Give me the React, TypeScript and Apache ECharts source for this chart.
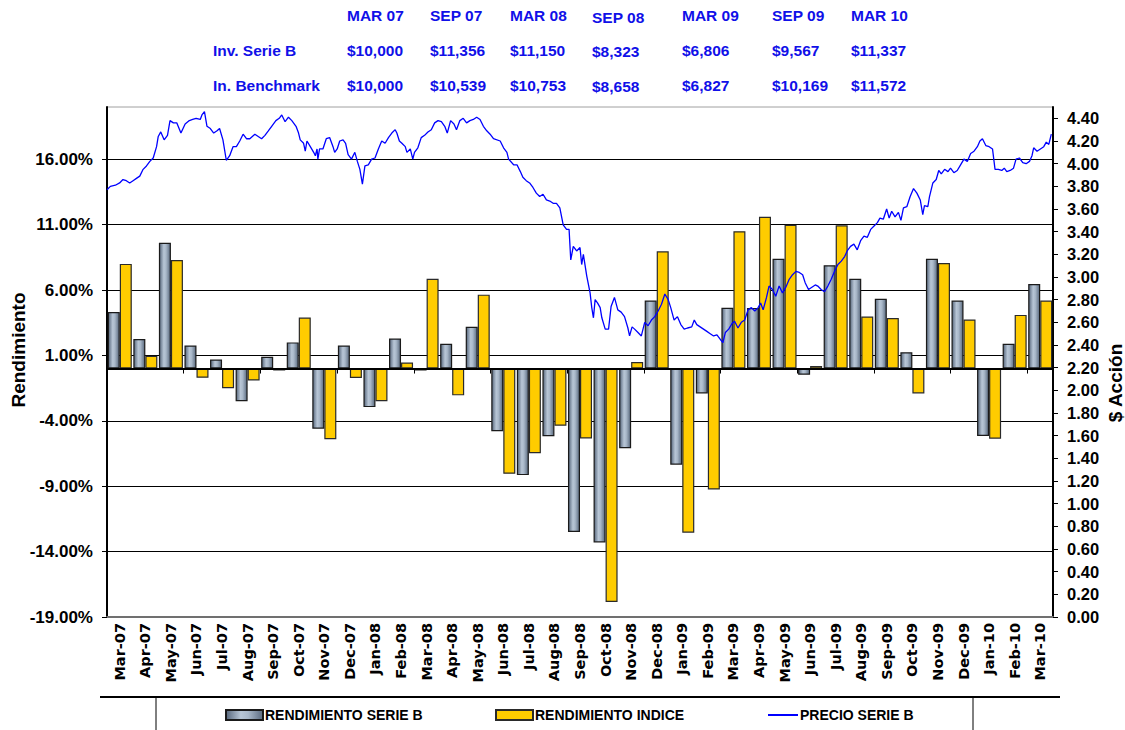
import { useEffect, useRef } from 'react';
import * as echarts from 'echarts';

// ---------- data ----------
const categories = [
  'Mar-07', 'Apr-07', 'May-07', 'Jun-07', 'Jul-07', 'Aug-07', 'Sep-07', 'Oct-07', 'Nov-07', 'Dec-07',
  'Jan-08', 'Feb-08', 'Mar-08', 'Apr-08', 'May-08', 'Jun-08', 'Jul-08', 'Aug-08', 'Sep-08', 'Oct-08',
  'Nov-08', 'Dec-08', 'Jan-09', 'Feb-09', 'Mar-09', 'Apr-09', 'May-09', 'Jun-09', 'Jul-09', 'Aug-09',
  'Sep-09', 'Oct-09', 'Nov-09', 'Dec-09', 'Jan-10', 'Feb-10', 'Mar-10',
];

const rendimientoSerieB = [
  4.32, 2.25, 9.62, 1.76, 0.69, -2.5, 0.9, 2.0, -4.6, 1.76,
  -2.95, 2.3, -0.15, 1.9, 3.2, -4.8, -8.15, -5.17, -12.5, -13.3,
  -6.1, 5.2, -7.35, -1.9, 4.65, 4.62, 8.4, -0.48, 7.9, 6.87,
  5.34, 1.25, 8.4, 5.2, -5.15, 1.9, 6.46,
];

const rendimientoIndice = [
  8.0, 0.97, 8.3, -0.71, -1.5, -0.92, -0.15, 3.9, -5.4, -0.72,
  -2.5, 0.46, 6.87, -2.05, 5.65, -8.05, -6.47, -4.38, -5.35, -17.85,
  0.5, 8.96, -12.55, -9.25, 10.5, 11.6, 11.0, 0.2, 10.95, 3.98,
  3.86, -1.9, 8.07, 3.75, -5.36, 4.1, 5.2,
];

// price line: days elapsed since 1-Mar-2007 and price ($)
const priceDayOffset = [
  0, 4, 10, 15, 19, 23, 27, 31, 35, 39, 43, 47, 51, 55, 59, 61, 64, 68, 72, 75,
  79, 83, 88, 93, 98, 102, 106, 111, 113, 116, 119, 123, 127, 131, 134, 138, 142, 146, 150, 154,
  158, 162, 166, 170, 176, 180, 184, 188, 192, 196, 201, 205, 208, 212, 216, 220, 225, 228,
  230, 234, 236, 238, 242, 246, 248, 250, 251, 253, 257, 261, 265, 269, 271, 274, 277, 281, 284, 287,
  291, 295, 298, 301, 304, 307, 311, 315, 319, 323, 327, 331, 335, 339, 343, 345, 348, 351, 355, 357,
  361, 364, 366, 370, 374, 378, 382, 386, 390, 394, 398, 402, 405, 409, 413, 416, 420, 424, 428, 432,
  436, 440, 444, 448, 452, 456, 460,
  468, 472, 476, 478, 484, 488, 492, 495, 499, 503, 507, 511, 515, 519, 523, 527, 531, 535, 539, 543,
  547, 550, 552, 555, 559, 563, 565, 567, 571, 575, 577, 579, 581, 584, 587, 589, 593, 597, 600, 604,
  608, 612, 616, 620, 622, 625, 628, 632, 636, 640, 644, 648, 652, 656, 660, 664, 668, 671, 675, 679,
  683, 687, 691, 696,
  699, 702, 706, 710, 714, 718, 722, 726, 730, 733, 736, 740, 744, 747, 751, 755, 759, 763, 767, 771,
  775, 778, 781, 785, 788, 792, 796, 800, 804, 808, 812, 816, 820, 824, 828, 831, 835, 839, 843, 846,
  850, 854, 858, 862, 866, 870, 874, 878, 881, 885, 889, 893, 897, 901, 905, 909, 913, 917,
  920, 924, 928, 931, 934, 938, 942, 945, 948, 952, 956, 960, 964, 968, 971, 973, 977, 979, 983, 987,
  990, 993, 997, 1001, 1004, 1008, 1012, 1016, 1020, 1024, 1028, 1032, 1036, 1039, 1042, 1046, 1050, 1054, 1057, 1061,
  1065, 1068, 1071, 1075, 1079, 1082, 1086, 1090, 1094, 1098, 1101, 1103, 1107, 1111, 1115, 1118, 1121, 1124,
];

const precioSerieB = [
  3.77, 3.80, 3.81, 3.83, 3.86, 3.85, 3.83, 3.85, 3.87, 3.89, 3.95, 3.98, 4.02, 4.05, 4.15, 4.24, 4.28, 4.21, 4.25, 4.38,
  4.36, 4.36, 4.27, 4.35, 4.38, 4.39, 4.40, 4.39, 4.43, 4.46, 4.33, 4.31, 4.27, 4.29, 4.31, 4.21, 4.03, 4.07, 4.15, 4.15,
  4.20, 4.26, 4.22, 4.22, 4.26, 4.24, 4.22, 4.25, 4.29, 4.33, 4.38, 4.40, 4.43, 4.37, 4.41, 4.38, 4.33, 4.27,
  4.21, 4.18, 4.11, 4.20, 4.15, 4.10, 4.07, 4.13, 4.04, 4.13, 4.13, 4.22, 4.23, 4.15, 4.10, 4.13, 4.20, 4.21, 4.18, 4.08,
  4.04, 4.10, 4.02, 3.95, 3.82, 3.98, 3.99, 4.04, 4.05, 4.13, 4.20, 4.18, 4.23, 4.27, 4.30, 4.27, 4.20, 4.18, 4.15, 4.10,
  4.13, 4.04, 4.10, 4.14, 4.23, 4.25, 4.28, 4.30, 4.36, 4.38, 4.37, 4.33, 4.27, 4.38, 4.35, 4.30, 4.38, 4.40, 4.36, 4.38,
  4.39, 4.41, 4.39, 4.33, 4.29, 4.26, 4.22,
  4.20, 4.14, 4.10, 4.04, 3.99, 3.99, 3.93, 3.88, 3.85, 3.83, 3.79, 3.74, 3.71, 3.73, 3.68, 3.67, 3.65, 3.65, 3.61, 3.46,
  3.42, 3.42, 3.15, 3.27, 3.23, 3.26, 3.11, 3.20, 3.01, 2.86, 2.73, 2.64, 2.80, 2.77, 2.73, 2.64, 2.54, 2.54, 2.74, 2.82,
  2.71, 2.69, 2.65, 2.55, 2.48, 2.56, 2.54, 2.51, 2.48, 2.60, 2.57, 2.62, 2.65, 2.70, 2.76, 2.85, 2.80, 2.73, 2.62, 2.65,
  2.58, 2.54, 2.55, 2.56,
  2.62, 2.58, 2.56, 2.54, 2.52, 2.50, 2.48, 2.49, 2.45, 2.42, 2.51, 2.54, 2.59, 2.61, 2.55, 2.60, 2.62, 2.71, 2.73, 2.70,
  2.73, 2.77, 2.71, 2.82, 2.92, 2.89, 2.83, 2.92, 2.86, 2.91, 2.98, 3.02, 3.05, 3.04, 3.02, 2.95, 2.89, 2.91, 2.93, 2.92,
  2.89, 2.87, 2.92, 2.98, 3.05, 3.11, 3.14, 3.18, 3.23, 3.27, 3.29, 3.24, 3.32, 3.36, 3.35, 3.42, 3.45, 3.48,
  3.52, 3.51, 3.60, 3.52, 3.58, 3.53, 3.57, 3.50, 3.61, 3.62, 3.71, 3.78, 3.74, 3.68, 3.55, 3.63, 3.62, 3.71, 3.83, 3.86,
  3.94, 3.91, 3.95, 3.93, 3.96, 3.92, 3.94, 3.99, 4.04, 4.02, 4.09, 4.11, 4.15, 4.20, 4.22, 4.16, 4.15, 4.13, 3.95, 3.95,
  3.94, 3.96, 3.93, 3.94, 3.96, 4.04, 4.05, 4.01, 4.00, 4.02, 4.07, 4.14, 4.11, 4.13, 4.15, 4.19, 4.17, 4.26,
];

const tableHeaders = ['MAR 07', 'SEP 07', 'MAR 08', 'SEP 08', 'MAR 09', 'SEP 09', 'MAR 10'];
const tableRowLabels = ['Inv. Serie B', 'In. Benchmark'];
const invSerieB = ['$10,000', '$11,356', '$11,150', '$8,323', '$6,806', '$9,567', '$11,337'];
const invBenchmark = ['$10,000', '$10,539', '$10,753', '$8,658', '$6,827', '$10,169', '$11,572'];

const seriesNames = ['RENDIMIENTO SERIE B', 'RENDIMIENTO INDICE', 'PRECIO SERIE B'];

// ---------- styling ----------
const FONT = "'Liberation Sans', Arial, Helvetica, sans-serif";
const NARROW = "'Liberation Sans Narrow', 'Arial Narrow', 'Liberation Sans', Arial, sans-serif";
const BLUE_TXT = '#1010e8';

const greyFill = {
  type: 'linear', x: 0, y: 0, x2: 1, y2: 0,
  colorStops: [
    { offset: 0, color: '#56667b' },
    { offset: 0.4, color: '#b8c6d6' },
    { offset: 0.6, color: '#a9b8c9' },
    { offset: 1, color: '#5a6a7f' },
  ],
};

function buildOption() {
  const colX = [347, 430, 510, 592, 682, 772, 851];
  const colDy = [0, 0, 0, 2, 0, 0, 0];
  const rowY = [15, 50, 85];
  const txt = (text: string, x: number, y: number) => ({
    type: 'text', x, y, silent: true,
    style: {
      text, fill: BLUE_TXT, fontFamily: NARROW, fontWeight: 'bold', fontSize: 15.5,
      textAlign: 'left', textVerticalAlign: 'middle',
    },
  });
  const graphics: any[] = [];
  tableHeaders.forEach((t, i) => graphics.push(txt(t, colX[i], rowY[0] + colDy[i])));
  graphics.push(txt(tableRowLabels[0], 213, rowY[1]));
  graphics.push(txt(tableRowLabels[1], 213, rowY[2]));
  invSerieB.forEach((t, i) => graphics.push(txt(t, colX[i], rowY[1] + colDy[i] / 2)));
  invBenchmark.forEach((t, i) => graphics.push(txt(t, colX[i], rowY[2] + colDy[i] / 2)));

  graphics.push({
    type: 'text', x: 18, y: 350, rotation: Math.PI / 2, silent: true,
    style: { text: 'Rendimiento', fill: '#000', fontFamily: FONT, fontWeight: 'bold', fontSize: 19, textAlign: 'center', textVerticalAlign: 'middle' },
  });
  graphics.push({
    type: 'text', x: 1115, y: 383, rotation: Math.PI / 2, silent: true,
    style: { text: '$ Acción', fill: '#000', fontFamily: FONT, fontWeight: 'bold', fontSize: 19, textAlign: 'center', textVerticalAlign: 'middle' },
  });
  // frame lines under the axis labels
  graphics.push({ type: 'line', silent: true, shape: { x1: 100, y1: 697, x2: 1060, y2: 697 }, style: { stroke: '#000', lineWidth: 2 } });
  graphics.push({ type: 'line', silent: true, shape: { x1: 156, y1: 697, x2: 156, y2: 730 }, style: { stroke: '#000', lineWidth: 1 } });
  graphics.push({ type: 'line', silent: true, shape: { x1: 973, y1: 697, x2: 973, y2: 730 }, style: { stroke: '#000', lineWidth: 1 } });

  const legendText = { fontFamily: NARROW, fontWeight: 'bold', fontSize: 14, color: '#000', padding: [0, 0, 0, -3] };

  return {
    animation: false,
    backgroundColor: '#fff',
    grid: { left: 107, right: 72, top: 107, bottom: 113, show: true, borderColor: '#a0a0a0', borderWidth: 1 },
    legend: [
      { data: [seriesNames[0]], left: 225, top: 708, padding: 0, itemWidth: 37, itemHeight: 10, icon: 'rect', textStyle: legendText },
      { data: [seriesNames[1]], left: 495, top: 708, padding: 0, itemWidth: 37, itemHeight: 10, icon: 'rect', textStyle: legendText },
      {
        data: [{ name: seriesNames[2], icon: 'rect' }], left: 768, top: 708, padding: 0, itemWidth: 30, itemHeight: 2,
        itemStyle: { color: '#0000ff', borderWidth: 0 }, textStyle: legendText,
      },
    ],
    xAxis: [
      {
        type: 'category', data: categories, position: 'bottom',
        axisLine: { onZero: true, onZeroAxisIndex: 0, lineStyle: { color: '#000', width: 2 } },
        axisTick: { show: true, length: 5, lineStyle: { color: '#000', width: 1 } },
        axisLabel: { show: false }, splitLine: { show: false }, z: 4,
      },
      {
        type: 'category', data: categories, position: 'bottom',
        axisLine: { onZero: false, lineStyle: { color: '#707070', width: 2 } },
        axisTick: { show: false },
        axisLabel: { rotate: 90, interval: 0, margin: 6, fontFamily: "'DejaVu Sans', Verdana, sans-serif", fontWeight: 'bold', fontSize: 14.5, color: '#000' },
        splitLine: { show: false },
      },
      { type: 'value', min: 0, max: 1126, show: false, splitLine: { show: false } },
    ],
    yAxis: [
      {
        type: 'value', min: -19, max: 20, interval: 5, position: 'left',
        axisLine: { show: true, lineStyle: { color: '#000', width: 2 } },
        axisTick: { show: true, length: 5, lineStyle: { color: '#000' } },
        axisLabel: {
          showMaxLabel: false, margin: 14, fontFamily: FONT, fontWeight: 'bold', fontSize: 17, color: '#000',
          formatter: (v: number) => v.toFixed(2) + '%',
        },
        splitLine: { show: true, showMaxLine: false, lineStyle: { color: '#000', width: 1.2 } },
      },
      {
        type: 'value', min: 0, max: 4.5, interval: 0.2, position: 'right',
        axisLine: { show: true, lineStyle: { color: '#000', width: 2 } },
        axisTick: { show: true, length: 5, lineStyle: { color: '#000' } },
        axisLabel: {
          showMaxLabel: false, margin: 14, fontFamily: FONT, fontWeight: 'bold', fontSize: 16.5, color: '#000',
          formatter: (v: number) => v.toFixed(2),
        },
        splitLine: { show: false },
      },
    ],
    series: [
      {
        name: seriesNames[0], type: 'bar', xAxisIndex: 0, yAxisIndex: 0,
        data: rendimientoSerieB, barCategoryGap: '6%', barGap: '0%',
        itemStyle: { color: greyFill, borderColor: '#1a1a1a', borderWidth: 1.2 },
      },
      {
        name: seriesNames[1], type: 'bar', xAxisIndex: 0, yAxisIndex: 0,
        data: rendimientoIndice, barCategoryGap: '6%', barGap: '0%',
        itemStyle: { color: '#FFCC00', borderColor: '#2a2a2a', borderWidth: 1.2 },
      },
      {
        name: seriesNames[2], type: 'line', xAxisIndex: 2, yAxisIndex: 1,
        data: priceDayOffset.map((d, i) => [d, precioSerieB[i]]),
        symbol: 'none', showSymbol: false, z: 6,
        lineStyle: { color: '#0000ff', width: 1.3 },
        itemStyle: { color: '#0000ff' },
      },
    ],
    graphic: graphics,
  };
}

export default function App() {
  const ref = useRef<HTMLDivElement>(null);
  useEffect(() => {
    const chart = echarts.init(ref.current as HTMLDivElement, null, { renderer: 'svg' });
    chart.setOption(buildOption() as any);
    return () => chart.dispose();
  }, []);
  return (
    <div
      ref={ref}
      style={{ position: 'fixed', left: 0, top: 0, width: 1125, height: 730, background: '#fff' }}
    />
  );
}
